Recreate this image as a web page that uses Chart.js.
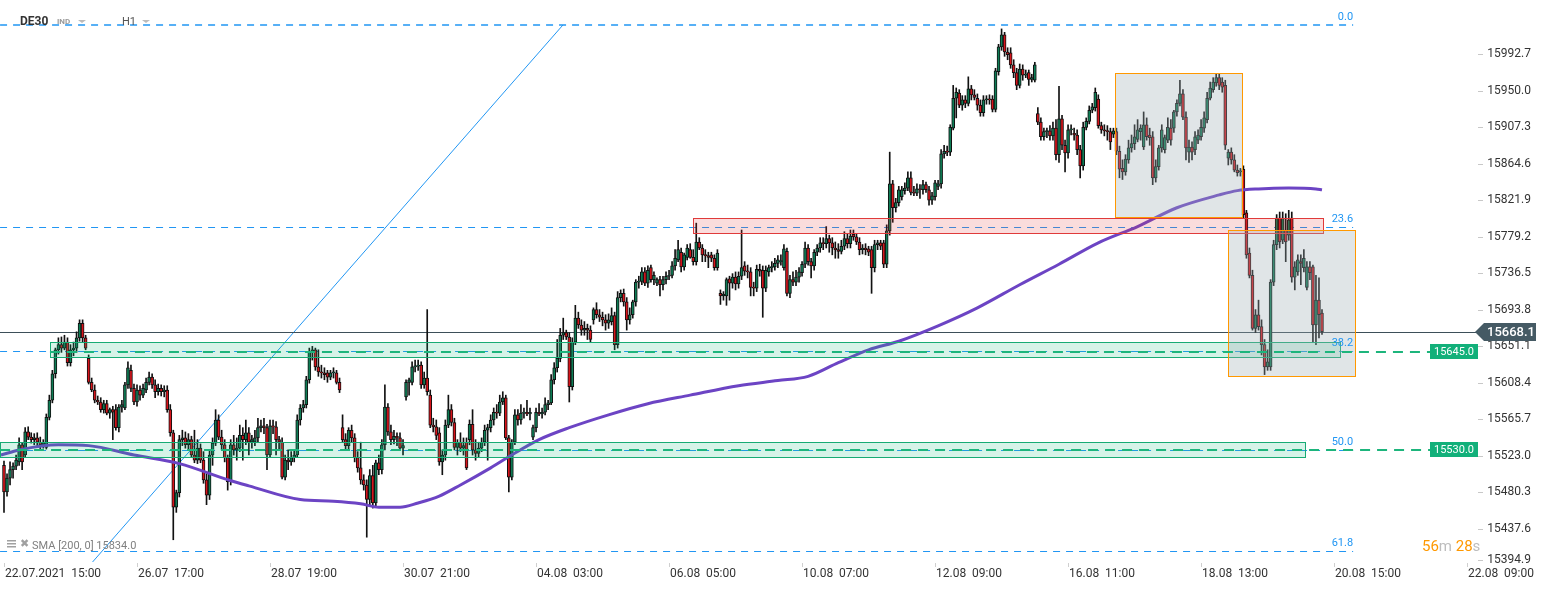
<!DOCTYPE html>
<html>
<head>
<meta charset="utf-8">
<script src="https://cdn.jsdelivr.net/npm/chart.js@4.4.0/dist/chart.umd.min.js"></script>
<style>
  html, body { margin: 0; padding: 0; background: #fff; }
  #wrap { position: relative; width: 1546px; height: 590px; }
</style>
</head>
<body>
<div id="wrap"><canvas id="chart" width="1546" height="590"></canvas></div>
<script>
// ==========================================
// DATA (DE30, H1 candles)
// ==========================================

const opens = [
  15512,15481,15497,15507,15511,15516,15536,15524,15551,15545,
  15542,15544,15539,15536,15533,15568,15588,15619,15647,15653,
  15649,15656,15632,15647,15649,15661,15678,15661,15637,15609,
  15600,15588,15586,15577,15584,15573,15577,15577,15556,15580,
  15579,15606,15623,15602,15586,15600,15594,15600,15609,15615,
  15606,15598,15602,15598,15600,15577,15550,15463,15480,15542,
  15544,15536,15542,15524,15518,15532,15518,15495,15477,15524,
  15538,15565,15545,15536,15521,15493,15536,15530,15532,15547,
  15542,15550,15539,15539,15544,15556,15558,15556,15524,15558,
  15557,15542,15539,15498,15518,15516,15521,15524,15565,15579,
  15583,15612,15644,15647,15627,15621,15620,15620,15615,15620,
  15620,15609,15556,15542,15535,15553,15544,15521,15509,15495,
  15489,15472,15500,15468,15515,15507,15536,15580,15551,15542,
  15546,15544,15532,15592,15609,15609,15627,15628,15629,15606,
  15614,15594,15559,15557,15550,15516,15524,15559,15577,15562,
  15533,15539,15532,15539,15542,15560,15530,15526,15532,15539,
  15553,15556,15565,15574,15573,15586,15591,15544,15498,15539,
  15571,15565,15573,15574,15572,15545,15556,15574,15572,15574,
  15583,15585,15612,15626,15637,15664,15667,15662,15604,15656,
  15684,15676,15670,15672,15670,15682,15694,15688,15685,15682,
  15678,15680,15687,15653,15708,15713,15703,15682,15688,15703,
  15726,15727,15738,15725,15743,15729,15725,15729,15723,15729,
  15733,15734,15745,15752,15761,15744,15755,15764,15755,15750,
  15773,15766,15758,15757,15758,15754,15743,15713,15710,15710,
  15730,15725,15732,15724,15733,15745,15739,15738,15720,15719,
  15741,15740,15719,15738,15743,15744,15748,15750,15743,15762,
  15713,15729,15726,15732,15737,15747,15766,15750,15745,15761,
  15766,15772,15771,15777,15772,15766,15764,15762,15768,15777,
  15771,15782,15779,15773,15764,15766,15765,15764,15743,15770,
  15772,15772,15747,15786,15841,15813,15819,15826,15833,15836,
  15848,15831,15830,15835,15834,15840,15834,15822,15826,15838,
  15841,15876,15879,15878,15906,15941,15947,15933,15939,15935,
  15952,15945,15941,15933,15924,15939,15940,15940,15928,15972,
  16001,16015,15995,15994,15980,15971,15956,15975,15968,15971,
  15963,15962,15923,15913,15896,15902,15903,15897,15906,15875,
  15917,15886,15877,15904,15900,15898,15881,15862,15907,15914,
  15927,15930,15940,15909,15904,15903,15902,15899,15902,15879,
  15859,15855,15869,15883,15888,15893,15902,15884,15910,15898,
  15896,15848,15861,15883,15881,15892,15906,15906,15925,15935,
  15946,15919,15878,15884,15881,15892,15896,15906,15916,15941,
  15951,15959,15965,15960,15956,15871,15878,15869,15857,15855,
  15858,15807,15760,15734,15672,15688,15674,15653,15627,15627,
  15726,15770,15801,15775,15787,15781,15801,15732,15738,15750,
  15743,15720,15744,15744,15676,15705,15690
];

const highs = [
  15517,15502,15516,15515,15524,15544,15539,15556,15557,15550,
  15549,15550,15545,15542,15572,15594,15623,15649,15661,15662,
  15664,15661,15653,15656,15668,15682,15682,15664,15641,15614,
  15606,15593,15591,15588,15588,15579,15581,15583,15583,15588,
  15609,15633,15629,15607,15606,15605,15607,15614,15621,15619,
  15612,15607,15606,15605,15605,15583,15553,15483,15547,15553,
  15551,15549,15546,15553,15542,15537,15528,15502,15530,15544,
  15577,15571,15553,15542,15524,15542,15547,15544,15559,15556,
  15565,15556,15547,15553,15567,15565,15567,15560,15565,15565,
  15563,15546,15544,15524,15530,15528,15530,15571,15583,15588,
  15616,15649,15651,15649,15647,15629,15626,15623,15623,15626,
  15623,15614,15571,15549,15556,15559,15549,15528,15539,15501,
  15495,15507,15512,15518,15524,15542,15606,15584,15559,15553,
  15550,15550,15542,15612,15614,15633,15635,15635,15633,15621,
  15694,15600,15567,15565,15556,15530,15565,15594,15583,15567,
  15542,15550,15544,15544,15565,15577,15542,15539,15544,15559,
  15560,15571,15579,15583,15594,15598,15594,15547,15542,15577,
  15577,15583,15579,15588,15579,15559,15579,15584,15579,15591,
  15588,15618,15632,15659,15672,15684,15670,15667,15661,15699,
  15691,15682,15680,15677,15675,15696,15702,15694,15691,15688,
  15689,15696,15691,15715,15717,15718,15708,15696,15705,15729,
  15733,15743,15743,15745,15746,15738,15731,15733,15733,15738,
  15740,15750,15764,15775,15766,15760,15770,15771,15764,15795,
  15778,15770,15764,15761,15761,15758,15764,15717,15715,15731,
  15733,15736,15738,15738,15787,15750,15746,15743,15726,15746,
  15747,15745,15745,15746,15750,15754,15757,15758,15770,15766,
  15734,15738,15740,15743,15750,15773,15770,15754,15764,15770,
  15778,15778,15791,15781,15778,15773,15771,15775,15785,15782,
  15787,15787,15782,15778,15770,15771,15768,15768,15775,15775,
  15775,15775,15793,15878,15845,15824,15838,15838,15842,15855,
  15855,15838,15841,15840,15845,15843,15838,15831,15845,15845,
  15881,15886,15885,15910,15956,15953,15951,15944,15944,15966,
  15956,15951,15946,15939,15944,15944,15945,15944,15976,16004,
  16022,16018,16000,16000,15986,15976,15981,15980,15974,15974,
  15969,15983,15930,15918,15906,15906,15909,15913,15916,15955,
  15921,15892,15910,15910,15906,15904,15886,15913,15918,15932,
  15935,15953,15945,15913,15910,15909,15906,15906,15906,15885,
  15869,15875,15892,15898,15910,15916,15910,15925,15918,15906,
  15902,15869,15886,15910,15898,15918,15916,15927,15939,15962,
  15951,15925,15892,15890,15902,15904,15916,15925,15948,15960,
  15965,15969,15969,15965,15962,15881,15883,15875,15863,15859,
  15862,15810,15766,15740,15694,15705,15682,15659,15647,15729,
  15775,15805,15808,15808,15806,15810,15808,15750,15758,15758,
  15764,15750,15750,15746,15734,15731,15694
];

const lows = [
  15457,15476,15489,15497,15507,15512,15507,15521,15542,15538,
  15536,15535,15530,15532,15531,15565,15585,15614,15642,15644,
  15647,15628,15628,15640,15644,15657,15656,15647,15607,15598,
  15585,15583,15574,15573,15571,15567,15542,15553,15551,15574,
  15577,15602,15598,15583,15581,15588,15591,15597,15606,15602,
  15591,15594,15593,15592,15574,15546,15425,15457,15475,15535,
  15532,15530,15521,15515,15514,15515,15491,15466,15472,15512,
  15535,15542,15530,15516,15483,15489,15524,15518,15528,15518,
  15536,15524,15532,15535,15539,15551,15549,15507,15521,15549,
  15524,15530,15496,15495,15507,15512,15516,15521,15559,15574,
  15579,15608,15635,15623,15616,15614,15612,15609,15612,15614,
  15607,15597,15539,15530,15530,15539,15516,15504,15490,15483,
  15428,15466,15462,15464,15501,15502,15530,15547,15536,15537,
  15535,15530,15524,15588,15594,15606,15621,15623,15602,15602,
  15594,15556,15551,15542,15512,15501,15518,15556,15558,15530,
  15524,15528,15524,15507,15536,15524,15518,15522,15528,15535,
  15518,15551,15559,15567,15570,15583,15542,15481,15495,15536,
  15559,15560,15567,15570,15565,15542,15551,15570,15567,15571,
  15577,15583,15607,15621,15633,15659,15659,15586,15600,15653,
  15672,15664,15664,15659,15656,15677,15684,15680,15675,15670,
  15672,15676,15647,15649,15703,15698,15670,15677,15684,15698,
  15719,15723,15722,15720,15726,15723,15722,15710,15717,15724,
  15729,15731,15740,15750,15738,15740,15752,15754,15746,15746,
  15764,15750,15750,15743,15750,15740,15740,15700,15705,15699,
  15705,15719,15717,15719,15729,15734,15731,15710,15710,15715,
  15733,15685,15715,15733,15738,15740,15743,15746,15740,15710,
  15708,15722,15722,15726,15733,15743,15746,15731,15740,15757,
  15761,15764,15766,15761,15758,15754,15754,15759,15764,15766,
  15766,15775,15770,15758,15759,15758,15757,15713,15738,15764,
  15764,15743,15743,15781,15796,15808,15815,15822,15829,15833,
  15828,15827,15827,15824,15829,15831,15816,15817,15822,15834,
  15836,15871,15874,15874,15904,15918,15930,15927,15930,15932,
  15939,15939,15927,15920,15920,15934,15934,15925,15925,15968,
  15997,15990,15986,15976,15965,15951,15953,15962,15965,15956,
  15960,15960,15910,15892,15892,15895,15892,15892,15869,15866,
  15881,15855,15871,15898,15892,15875,15848,15857,15904,15911,
  15924,15926,15906,15900,15897,15892,15881,15895,15875,15848,
  15846,15851,15865,15878,15881,15890,15892,15881,15892,15886,
  15840,15843,15857,15878,15877,15889,15886,15901,15920,15932,
  15916,15869,15866,15869,15875,15888,15892,15901,15912,15939,
  15948,15955,15951,15948,15881,15863,15864,15855,15850,15850,
  15801,15754,15731,15670,15667,15670,15641,15618,15623,15623,
  15722,15764,15766,15771,15750,15775,15726,15717,15734,15723,
  15738,15717,15729,15656,15653,15661,15665
];

const closes = [
  15481,15497,15507,15511,15518,15536,15516,15551,15545,15542,
  15544,15539,15536,15538,15568,15588,15619,15647,15653,15649,
  15656,15632,15647,15649,15661,15678,15661,15649,15609,15600,
  15588,15586,15577,15584,15573,15577,15574,15556,15580,15583,
  15606,15626,15602,15586,15600,15594,15602,15609,15615,15606,
  15598,15602,15598,15600,15577,15550,15463,15480,15542,15544,
  15536,15542,15524,15518,15532,15518,15495,15477,15524,15538,
  15565,15545,15536,15521,15493,15536,15530,15532,15547,15542,
  15550,15539,15542,15544,15556,15558,15556,15524,15558,15557,
  15542,15539,15498,15518,15516,15521,15524,15565,15579,15583,
  15612,15644,15647,15627,15621,15620,15618,15615,15620,15621,
  15609,15600,15542,15535,15553,15544,15521,15509,15495,15489,
  15472,15500,15468,15515,15507,15536,15580,15551,15542,15546,
  15544,15532,15535,15609,15612,15627,15628,15629,15606,15614,
  15598,15559,15557,15547,15516,15524,15559,15577,15562,15533,
  15539,15532,15535,15509,15560,15530,15526,15532,15539,15553,
  15556,15565,15574,15573,15586,15591,15544,15498,15539,15571,
  15565,15573,15574,15572,15574,15556,15574,15572,15574,15583,
  15585,15612,15626,15637,15664,15667,15662,15604,15656,15684,
  15676,15670,15672,15670,15659,15694,15688,15685,15682,15678,
  15682,15687,15653,15708,15713,15703,15682,15688,15703,15726,
  15727,15738,15725,15740,15729,15734,15729,15723,15729,15733,
  15734,15745,15754,15764,15744,15758,15766,15755,15750,15773,
  15766,15758,15757,15755,15754,15743,15760,15710,15712,15729,
  15725,15732,15724,15733,15743,15739,15738,15720,15719,15741,
  15739,15719,15740,15743,15744,15748,15752,15751,15765,15713,
  15729,15726,15732,15738,15747,15766,15750,15745,15761,15766,
  15772,15771,15777,15772,15766,15764,15762,15768,15777,15771,
  15780,15779,15773,15764,15766,15764,15761,15743,15770,15772,
  15768,15747,15786,15841,15813,15819,15834,15834,15836,15848,
  15831,15830,15835,15834,15840,15834,15822,15827,15842,15841,
  15876,15879,15878,15907,15941,15948,15933,15939,15935,15952,
  15945,15942,15933,15924,15939,15940,15939,15928,15973,16001,
  16015,15995,15992,15980,15971,15956,15975,15968,15969,15963,
  15965,15980,15913,15896,15902,15903,15897,15906,15875,15917,
  15886,15877,15904,15905,15898,15881,15862,15907,15914,15927,
  15931,15948,15909,15904,15903,15902,15890,15903,15879,15858,
  15855,15870,15883,15888,15896,15904,15906,15910,15896,15895,
  15848,15861,15883,15904,15895,15907,15892,15925,15935,15946,
  15919,15883,15884,15878,15896,15898,15907,15918,15941,15953,
  15960,15965,15956,15954,15886,15878,15869,15857,15854,15856,
  15805,15758,15734,15672,15688,15674,15653,15627,15633,15726,
  15770,15801,15773,15801,15773,15799,15732,15744,15752,15748,
  15754,15744,15737,15676,15705,15688,15668.1
];

// SMA(200) read at a few bar positions
const smaIdx = [-1,5,18,28,43,58,75,81,98,109,118,124,131,137,144,151,161,167,177,187,200,213,227,243,256,266,276,286,296,309,322,336,349,362,375,388,402,408,415,425,434,436];
const smaVal = [15524,15530,15536,15535,15524,15514,15494,15488,15472,15470,15467,15463,15463,15468,15476,15489,15509,15522,15542,15556,15571,15584,15594,15605,15611,15616,15632,15647,15657,15675,15696,15723,15747,15772,15791,15813,15828,15833,15835,15836,15835,15834];

// axis ticks
const yTicks = [15394.9,15437.6,15480.3,15523.0,15565.7,15608.4,15651.1,15693.8,15736.5,15779.2,15821.9,15864.6,15907.3,15950.0,15992.7];
const xTickIdx = [0,44,88,132,176,220,264,308,352,396,440,484];
const xTickLabels = ['22.07.2021  15:00','26.07  17:00','28.07  19:00','30.07  21:00','04.08  03:00','06.08  05:00','10.08  07:00','12.08  09:00','16.08  11:00','18.08  13:00','20.08  15:00','22.08  09:00'];

// drawing tools (fib, zones, levels)
const fibLevels = [16026.6, 15790.5, 15645.6, 15529.9, 15411.9];
const fibNames = ['0.0', '23.6', '38.2', '50.0', '61.8'];
const zoneFrom = [227.9, 15.2, -1.3, 367.5, 404.9];
const zoneTo = [436.4, 442.0, 430.4, 409.5, 447.0];
const zoneTop = [15801, 15656, 15539, 15970.5, 15787];
const zoneBottom = [15783.5, 15639, 15522, 15802, 15616.4];
const zoneKind = ['red', 'green', 'green', 'box', 'box'];
const levelPrices = [15645.0, 15530.0];
const levelFrom = [15.2, -1.3];
const lastPrice = 15668.1;
const trendFrom = [28.45, 15395.6];
const trendTo = [184.9, 16026.6];

// ==========================================
// CHART
// ==========================================

const GREEN = '#0e7c55';
const RED = '#d7141b';
const FONT = 'Roboto, "DejaVu Sans", sans-serif';

const bodyData = opens.map((o, i) => ({ x: i, y: [o, closes[i]] }));
const wickData = highs.map((h, i) => ({ x: i, y: [lows[i], h] }));
const bodyColors = opens.map((o, i) => closes[i] >= o ? GREEN : RED);
const smaData = smaIdx.map((v, i) => ({ x: v, y: smaVal[i] }));

const zoneStyle = {
    red:   { fill: 'rgba(230, 60, 60, 0.18)', stroke: '#e03a3a' },
    green: { fill: 'rgba(30, 190, 130, 0.18)', stroke: '#17ab74' },
    box:   { fill: 'rgba(160, 175, 180, 0.32)', stroke: '#ff9800' }
};

const drawTools = {
    id: 'drawTools',
    beforeDatasetsDraw(chart) {
        const { ctx, chartArea: a, scales: { x, y } } = chart;
        ctx.save();
        ctx.beginPath(); ctx.rect(a.left, a.top, a.width, a.height); ctx.clip();

        // fibonacci levels (top level drawn a bit heavier, as in the picture)
        ctx.strokeStyle = '#2196f3';
        ctx.setLineDash([7, 6]);
        fibLevels.forEach((v, i) => {
            ctx.lineWidth = i === 0 ? 1.6 : 1;
            const py = Math.round(y.getPixelForValue(v)) + (i === 0 ? 0 : 0.5);
            ctx.beginPath();
            ctx.moveTo(x.getPixelForValue(-1.3), py);
            ctx.lineTo(x.getPixelForValue(446.3), py);
            ctx.stroke();
        });

        // trend line
        ctx.setLineDash([]);
        ctx.lineWidth = 1;
        ctx.beginPath();
        ctx.moveTo(x.getPixelForValue(trendFrom[0]), y.getPixelForValue(trendFrom[1]));
        ctx.lineTo(x.getPixelForValue(trendTo[0]), y.getPixelForValue(trendTo[1]));
        ctx.stroke();

        // last price line
        const ly = Math.round(y.getPixelForValue(lastPrice)) + 0.5;
        ctx.strokeStyle = '#3d4f59';
        ctx.beginPath();
        ctx.moveTo(a.left, ly);
        ctx.lineTo(1476, ly);
        ctx.stroke();
        ctx.restore();
    },
    afterDatasetsDraw(chart) {
        const { ctx, scales: { x, y } } = chart;
        ctx.save();

        // zones
        zoneKind.forEach((k, i) => {
            const x0 = Math.round(x.getPixelForValue(zoneFrom[i])) + 0.5;
            const x1 = Math.round(x.getPixelForValue(zoneTo[i])) + 0.5;
            const y0 = Math.round(y.getPixelForValue(zoneTop[i])) + 0.5;
            const y1 = Math.round(y.getPixelForValue(zoneBottom[i])) + 0.5;
            ctx.fillStyle = zoneStyle[k].fill;
            ctx.fillRect(x0, y0, x1 - x0, y1 - y0);
            ctx.strokeStyle = zoneStyle[k].stroke;
            ctx.lineWidth = 1;
            ctx.strokeRect(x0, y0, x1 - x0, y1 - y0);
        });

        // green horizontal levels
        ctx.strokeStyle = '#1db57c';
        ctx.lineWidth = 2;
        ctx.setLineDash([10, 7]);
        levelPrices.forEach((v, i) => {
            const py = Math.round(y.getPixelForValue(v));
            ctx.beginPath();
            ctx.moveTo(x.getPixelForValue(levelFrom[i]), py);
            ctx.lineTo(1430, py);
            ctx.stroke();
        });
        ctx.setLineDash([]);

        // fib labels
        ctx.font = '11px ' + FONT;
        ctx.fillStyle = '#2196f3';
        ctx.textAlign = 'right';
        ctx.textBaseline = 'middle';
        const lx = x.getPixelForValue(446.3);
        fibLevels.forEach((v, i) => {
            ctx.fillText(fibNames[i], lx, y.getPixelForValue(v) - 8);
        });
        ctx.restore();
    },
    afterDraw(chart) {
        const { ctx, scales: { x, y } } = chart;
        ctx.save();

        // time axis
        ctx.font = '12px ' + FONT;
        ctx.textAlign = 'left';
        ctx.textBaseline = 'middle';
        xTickIdx.forEach((v, i) => {
            const px = Math.round(x.getPixelForValue(v));
            ctx.fillStyle = '#cfcfcf';
            ctx.fillRect(px, 563, 1, 4);
            ctx.fillStyle = '#333';
            ctx.fillText(xTickLabels[i], px + 1, 574);
        });

        // price axis labels
        ctx.textAlign = 'right';
        yTicks.forEach(v => {
            const py = Math.min(y.getPixelForValue(v), 560);
            ctx.fillStyle = '#c8c8c8';
            ctx.fillRect(1478, Math.round(py), 5, 1);
            ctx.fillStyle = '#333';
            ctx.fillText(v.toFixed(1), 1531, py);
        });

        // level tags
        ctx.font = '11px ' + FONT;
        ctx.textAlign = 'center';
        levelPrices.forEach(v => {
            const py = Math.round(y.getPixelForValue(v));
            ctx.fillStyle = '#12b07a';
            ctx.fillRect(1430, py - 8, 48, 15);
            ctx.fillStyle = '#fff';
            ctx.fillText(v.toFixed(1), 1454, py);
        });

        // last price tag
        const ly = Math.round(y.getPixelForValue(lastPrice));
        ctx.fillStyle = '#455a64';
        ctx.beginPath();
        ctx.moveTo(1475, ly);
        ctx.lineTo(1484, ly - 9);
        ctx.lineTo(1536, ly - 9);
        ctx.lineTo(1536, ly + 9);
        ctx.lineTo(1484, ly + 9);
        ctx.closePath();
        ctx.fill();
        ctx.fillStyle = '#fff';
        ctx.font = '500 13px ' + FONT;
        ctx.textAlign = 'left';
        ctx.fillText(lastPrice.toFixed(1), 1487, ly + 1);

        // header
        ctx.fillStyle = '#333';
        ctx.font = 'bold 12px ' + FONT;
        ctx.fillText('DE30', 20, 22);
        ctx.fillStyle = '#9a9a9a';
        ctx.font = 'bold 8px ' + FONT;
        ctx.fillText('IND', 57, 22);
        ctx.fillStyle = '#555';
        ctx.font = '11px ' + FONT;
        ctx.fillText('H1', 122, 22);
        ctx.fillStyle = '#bbb';
        [[78, 20], [142, 20]].forEach(([tx, ty]) => {
            ctx.beginPath();
            ctx.moveTo(tx, ty); ctx.lineTo(tx + 8, ty); ctx.lineTo(tx + 4, ty + 3);
            ctx.closePath(); ctx.fill();
        });

        // indicator legend
        ctx.fillStyle = '#a0a0a0';
        ctx.fillRect(7, 540, 9, 1.5);
        ctx.fillRect(7, 543, 9, 1.5);
        ctx.fillRect(7, 546, 9, 1.5);
        ctx.font = 'bold 11px ' + FONT;
        ctx.fillText('\u2716', 20, 544);
        ctx.fillStyle = '#808080';
        ctx.font = '11px ' + FONT;
        ctx.fillText('SMA [200, 0] 15834.0', 32, 546);

        // countdown
        ctx.font = '15px ' + FONT;
        let cx = 1422;
        [['56', '#ff9800'], ['m ', '#bdbdbd'], ['28', '#ff9800'], ['s', '#bdbdbd']].forEach(([t, c]) => {
            ctx.fillStyle = c;
            ctx.fillText(t, cx, 547);
            cx += ctx.measureText(t).width;
        });
        ctx.restore();
    }
};

new Chart(document.getElementById('chart'), {
    type: 'bar',
    data: {
        datasets: [
            {
                type: 'line', label: 'SMA 200', data: smaData, order: 0,
                borderColor: '#6c44c4', borderWidth: 3, pointRadius: 0,
                cubicInterpolationMode: 'monotone', fill: false
            },
            {
                label: 'body', data: bodyData, order: 1, grouped: false,
                backgroundColor: bodyColors, borderColor: '#111', borderWidth: 1,
                borderSkipped: false, barThickness: 3, minBarLength: 1
            },
            {
                label: 'wick', data: wickData, order: 2, grouped: false,
                backgroundColor: '#111', borderWidth: 0, barThickness: 1
            }
        ]
    },
    options: {
        responsive: false,
        animation: false,
        events: [],
        layout: { autoPadding: false, padding: { left: 0, right: 0, top: 0, bottom: 28 } },
        plugins: { legend: { display: false }, tooltip: { enabled: false } },
        scales: {
            x: { type: 'linear', display: false, offset: false, min: -1.323, max: 510.1 },
            y: { type: 'linear', display: false, min: 15399.0, max: 16055.8 }
        }
    },
    plugins: [drawTools]
});
</script>
</body>
</html>
